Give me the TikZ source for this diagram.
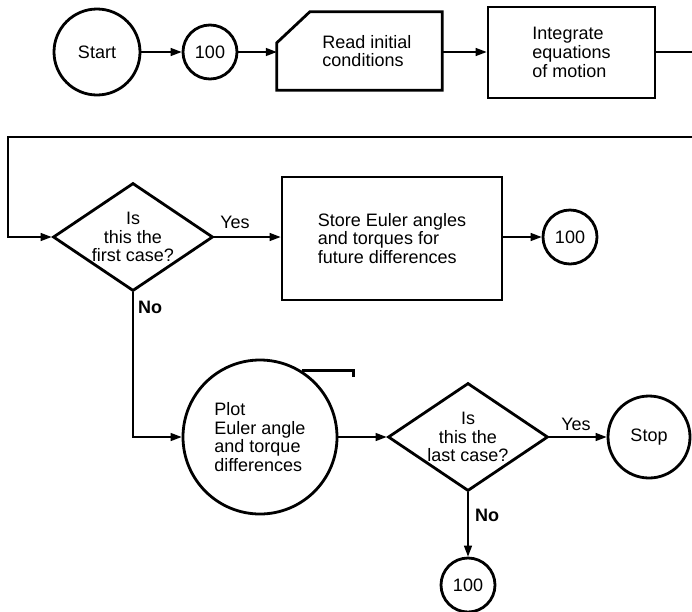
\documentclass[tikz,border=0pt]{standalone}
\usepackage{fontspec}
\setmainfont{Liberation Sans}
\usetikzlibrary{shapes.geometric,arrows.meta}
\begin{document}
\begin{tikzpicture}[x=1pt,y=-1pt,
  every node/.style={font=\fontsize{18}{18.8}\selectfont},
  shapeline/.style={draw, line width=2.8pt},
  term/.style={shapeline, circle, inner sep=0pt},
  proc/.style={shapeline, rectangle, align=left, inner sep=0pt},
  decide/.style={shapeline, diamond, aspect=1.5, inner sep=0pt, minimum width=160pt, minimum height=108pt, align=center},
  flow/.style={line width=1.4pt, -{Triangle[length=11pt,width=8pt]}},
  plain/.style={line width=1.4pt},
  lbl/.style={inner sep=0pt}
]
\useasboundingbox (0,0) rectangle (692,611);

% top row
\node[term, minimum size=86pt] (start) at (97,52) {Start};
\node[term, minimum size=54pt] (c1) at (210,52) {100};
\node[minimum width=165pt, minimum height=78pt, align=left, inner sep=0pt] (read) at (359.5,51) {\hspace*{15pt}Read initial\\\hspace*{15pt}conditions};
\draw[shapeline] ([yshift=-31pt]read.north west) -- ([xshift=33pt]read.north west) -- (read.north east) -- (read.south east) -- (read.south west) -- cycle;
\node[proc, minimum width=167pt, minimum height=91pt] (integ) at (571.5,52.5) {Integrate\\equations\\of motion};

\draw[flow] (start) -- (c1);
\draw[flow] (c1) -- (read.west |- c1);
\draw[flow] (read.east |- c1) -- (integ.west |- c1);
\coordinate (topout) at (692,52);
\draw[plain] (integ.east |- c1) -- (topout);

% second row
\coordinate (retR) at (692,137);
\coordinate (retL) at (8,137);
\node[decide] (d1) at (133,237) {Is\\this the\\first case?};
\node[proc, minimum width=220pt, minimum height=123pt] (store) at (392,238.5) {Store Euler angles\\and torques for\\future differences};
\node[term, minimum size=54pt] (c2) at (570,237) {100};
\draw[flow] (retR) -- (retL) |- (d1.west);
\draw[flow] (d1.east) -- (store.west |- d1.east);
\node[lbl] (yes1) at (235,222) {Yes};
\draw[flow] (store.east |- c2) -- (c2.west);

% third row
\node[term, minimum size=154pt, align=left] (plot) at (260,437) {Plot\\Euler angle\\and torque\\differences};
\draw[shapeline] (plot.58) -- ++(52,0) -- ++(0,6);
\draw[flow] (d1.south) |- (plot.west);
\node[lbl] (no1) at (150,307) {\bfseries No};
\node[decide] (d2) at (468,437) {Is\\this the\\last case?};
\draw[flow] (plot.east) -- (d2.west);
\node[term, minimum size=82pt] (stop) at (649,437) {Stop};
\draw[flow] (d2.east) -- (stop.west);
\node[lbl] (yes2) at (576,424) {Yes};
\node[term, minimum size=54pt] (c3) at (468,585) {100};
\draw[flow] (d2.south) -- (c3.north);
\node[lbl] (no2) at (487,515) {\bfseries No};
\end{tikzpicture}
\end{document}
